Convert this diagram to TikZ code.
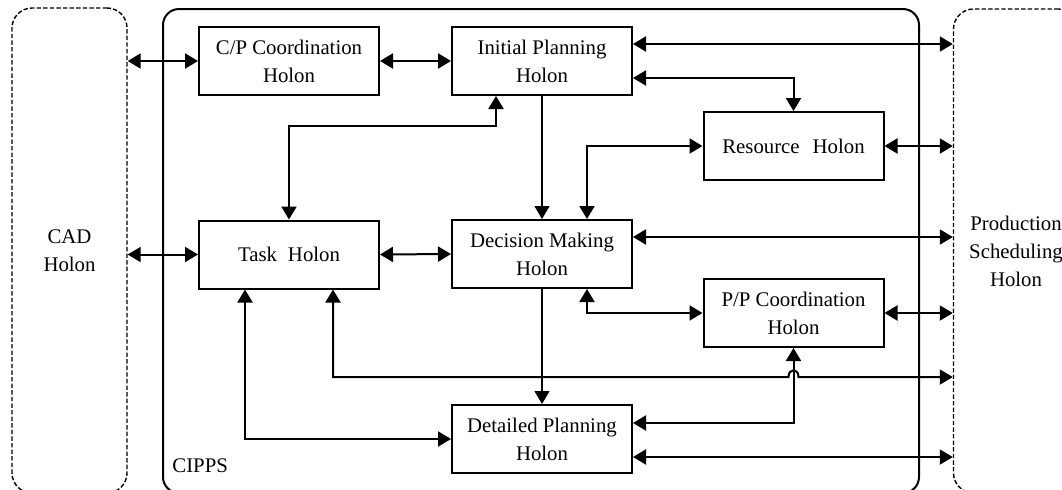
\documentclass[tikz,border=0pt]{standalone}
\usepackage{fontspec}
\setmainfont{Liberation Serif}
\usetikzlibrary{arrows.meta}
\begin{document}
\begin{tikzpicture}[x=0.5pt,y=-0.5pt,
  txt/.style={font=\fontsize{10.4}{14}\selectfont},
  holon/.style={txt, draw, line width=1pt, minimum width=90pt, minimum height=34pt, align=center, inner sep=0pt},
  ext/.style={txt, draw, dash pattern=on 2.2pt off 1.1pt, line width=0.7pt, rounded corners=10pt, align=center, inner sep=0pt},
  dbl/.style={line width=1pt, {Triangle[length=6.5pt,width=7.5pt]}-{Triangle[length=6.5pt,width=7.5pt]}},
  one/.style={line width=0.6pt, -{Triangle[length=6.5pt,width=7.5pt]}}]
\clip (0,0) rectangle (1062,489);
% outer boxes
\node[ext, minimum width=57.5pt, minimum height=242.5pt] (cad) at (69.5,250.5) {CAD\\Holon};
\node[ext, minimum width=62.5pt, minimum height=242pt] (prod) at (1016,251) {Production\\Scheduling\\Holon};
\node[draw, line width=1pt, rounded corners=8pt, minimum width=378pt, minimum height=242pt] (cipps) at (541,251) {};
\node[txt, anchor=base west, inner sep=0pt] (lbl) at (172,472) {CIPPS};
% holons
\node[holon] (cp) at (289,61) {C/P Coordination\\Holon};
\node[holon] (ip) at (542,61) {Initial Planning\\Holon};
\node[holon] (res) at (793.5,146) {Resource\hspace{6.5pt}Holon};
\node[holon] (task) at (289,254.5) {Task\hspace{5.5pt}Holon};
\node[holon] (dm) at (542,254) {Decision Making\\Holon};
\node[holon] (pp) at (793.5,313) {P/P Coordination\\Holon};
\node[holon] (dp) at (542,439) {Detailed Planning\\Holon};
% helper coordinates
\coordinate (ipA) at ([yshift=8.5pt]ip.east);
\coordinate (ipB) at ([yshift=-8.5pt]ip.east);
\coordinate (ipS) at ([xshift=-23pt]ip.south);
\coordinate (dmN) at ([xshift=22.5pt]dm.north);
\coordinate (dmS) at ([xshift=22.5pt]dm.south);
\coordinate (dmA) at ([yshift=8.5pt]dm.east);
\coordinate (tkR) at ([xshift=22pt]task.south);
\coordinate (tkL) at ([xshift=-22pt]task.south);
\coordinate (dpA) at ([yshift=8pt]dp.east);
\coordinate (dpB) at ([yshift=-9pt]dp.east);
% connectors
\draw[dbl] (cad.east |- cp.west) -- (cp.west);
\draw[dbl] (cad.east |- task.west) -- (task.west);
\draw[dbl] (cp.east) -- (ip.west);
\draw[dbl] (ipA) -- (ipA -| prod.west);
\draw[dbl] (ipB) -| (res.north);
\draw[dbl] (task.north) |- (ipS |- 0,126) -- (ipS);
\draw[one] (ip.south) -- (dm.north);
\draw[dbl] (res.west) -| (dmN);
\draw[dbl] (task.east) -- (dm.west);
\draw[dbl] (dmA) -- (dmA -| prod.west);
\draw[dbl] (dmS) |- (pp.west);
\draw[dbl] (res.east) -- (res.east -| prod.west);
\draw[dbl] (pp.east) -- (pp.east -| prod.west);
\draw[dbl] (tkR) |- (788.5,377) .. controls (788.5,368) and (798.5,368) .. (798.5,377) -- (prod.west |- 0,377);
\draw[one] (dm.south) -- (dp.north);
\draw[dbl] (tkL) |- (dp.west);
\draw[dbl] (dpA) -| (pp.south);
\draw[dbl] (dpB) -- (dpB -| prod.west);
\end{tikzpicture}
\end{document}
